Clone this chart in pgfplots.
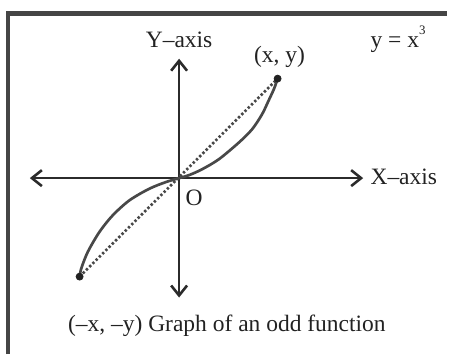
\documentclass[border=0pt]{standalone}
\usepackage{fontspec}
\setmainfont{Liberation Serif}
\usepackage{pgfplots}
\pgfplotsset{compat=1.18}
\usetikzlibrary{arrows.meta}
\definecolor{inkdark}{HTML}{222222}
\definecolor{axisgrey}{HTML}{2B2B2B}
\definecolor{curvegrey}{HTML}{484848}
\definecolor{framegrey}{HTML}{454545}
\begin{document}
\begin{tikzpicture}[font=\fontsize{11.8pt}{13pt}\selectfont]
\begin{axis}[
  width=224.5pt, height=178pt, scale only axis,
  xmin=-1.80, xmax=2.69, ymin=-1.77, ymax=1.79,
  hide axis, clip=false,
]
% frame (top and left edges only)
\addplot[framegrey, line width=2.25pt, line join=miter, mark=none]
  coordinates {(-1.72,-1.77) (-1.72,1.655) (2.69,1.655)};
% axes with open arrowheads at both ends
\addplot[axisgrey, line width=1.3pt, mark=none,
  {Straight Barb[length=5pt,width=8pt]}-{Straight Barb[length=5pt,width=8pt]}]
  coordinates {(-1.50,0) (1.85,0)};
\addplot[axisgrey, line width=1.3pt, mark=none,
  {Straight Barb[length=5pt,width=8pt]}-{Straight Barb[length=5pt,width=8pt]}]
  coordinates {(0,-1.20) (0,1.20)};
% chord through the origin
\addplot[curvegrey, line width=1.4pt, dash pattern=on 1.2pt off 1.1pt, mark=none]
  coordinates {(-1,-0.99) (0.99,1)};
% the curve y = x^3 (shape)
\addplot[curvegrey, line width=1.35pt, smooth, tension=0.5, mark=none]
  coordinates {
  (-1.00,-0.99) (-0.983,-0.907) (-0.917,-0.74) (-0.80,-0.54) (-0.667,-0.374)
  (-0.50,-0.224) (-0.30,-0.107) (-0.133,-0.04) (0,0)
  (0.10,0.03) (0.233,0.09) (0.40,0.19) (0.60,0.357) (0.733,0.49)
  (0.833,0.64) (0.90,0.78) (0.955,0.90) (0.99,1.00)};
% end points
\addplot[only marks, mark=*, mark size=1.75pt, color=inkdark]
  coordinates {(-1,-0.99) (0.99,1)};
% invisible corners to fix the picture size
\addplot[draw=none, mark=none] coordinates {(-1.80,-1.77) (2.69,1.79)};
\node[inkdark, anchor=base] at (axis cs:0,1.31) {Y–axis};
\node[inkdark, anchor=base] at (axis cs:1.01,1.16) {(x, y)};
\node[inkdark, anchor=base west, inner sep=0pt] at (axis cs:1.92,1.31)
  {y = x\raisebox{6.5pt}{\fontsize{6.5pt}{7pt}\selectfont 3}};
\node[inkdark, anchor=base west, inner sep=0pt] at (axis cs:1.92,-0.06) {X–axis};
\node[inkdark, anchor=base] at (axis cs:0.15,-0.28) {O};
\node[inkdark, anchor=base] at (axis cs:0.48,-1.54) {(–x, –y) Graph of an odd function};
\end{axis}
\end{tikzpicture}
\end{document}
